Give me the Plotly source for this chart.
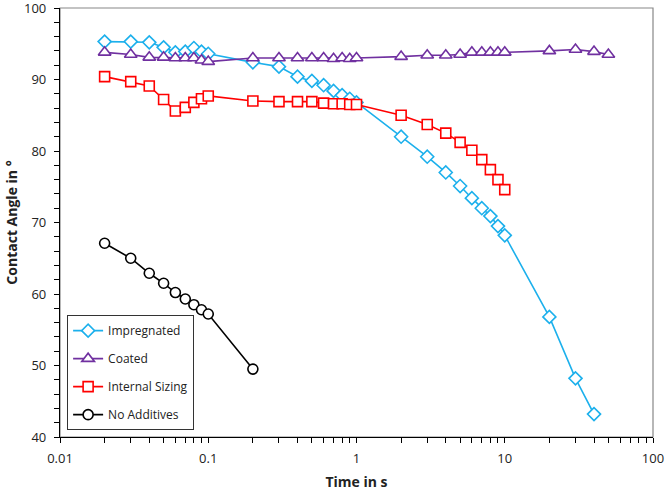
import plotly.graph_objects as go

# ---- data ----
t_imp = [0.02, 0.03, 0.04, 0.05, 0.06, 0.07, 0.08, 0.09, 0.1, 0.2, 0.3, 0.4, 0.5, 0.6, 0.7,
         0.8, 0.9, 1, 2, 3, 4, 5, 6, 7, 8, 9, 10, 20, 30, 40]
ca_imp = [95.3, 95.3, 95.2, 94.5, 93.8, 93.9, 94.4, 93.9, 93.6, 92.4, 91.8, 90.4, 89.8, 89.2, 88.4,
          87.8, 87.3, 86.8, 82.0, 79.2, 77.0, 75.1, 73.4, 72.0, 70.9, 69.5, 68.2, 56.8, 48.2, 43.2]

t_coat = [0.02, 0.03, 0.04, 0.05, 0.06, 0.07, 0.08, 0.09, 0.1, 0.2, 0.3, 0.4, 0.5, 0.6, 0.7,
          0.8, 0.9, 1, 2, 3, 4, 5, 6, 7, 8, 9, 10, 20, 30, 40, 50]
ca_coat = [93.8, 93.5, 93.1, 93.1, 93.0, 93.0, 93.0, 92.7, 92.5, 93.0, 93.0, 93.0, 93.0, 93.0, 92.9,
           93.0, 92.9, 93.0, 93.2, 93.4, 93.4, 93.5, 93.8, 93.8, 93.8, 93.8, 93.8, 94.0, 94.2, 93.9, 93.5]

t_int = [0.02, 0.03, 0.04, 0.05, 0.06, 0.07, 0.08, 0.09, 0.1, 0.2, 0.3, 0.4, 0.5, 0.6, 0.7,
         0.8, 0.9, 1, 2, 3, 4, 5, 6, 7, 8, 9, 10]
ca_int = [90.4, 89.7, 89.1, 87.2, 85.6, 86.1, 86.8, 87.3, 87.7, 87.0, 86.9, 86.9, 86.9, 86.7, 86.6,
          86.6, 86.5, 86.5, 85.0, 83.7, 82.5, 81.2, 80.1, 78.8, 77.4, 76.0, 74.6]

t_none = [0.02, 0.03, 0.04, 0.05, 0.06, 0.07, 0.08, 0.09, 0.1, 0.2]
ca_none = [67.1, 65.0, 62.9, 61.5, 60.2, 59.3, 58.5, 57.8, 57.2, 49.5]

names = ["Impregnated", "Coated", "Internal Sizing", "No Additives"]
x_ticks = [0.01, 0.1, 1, 10, 100]
x_tick_labels = ["0.01", "0.1", "1", "10", "100"]
y_ticks = [40, 50, 60, 70, 80, 90, 100]

FONT = "Open Sans"
series = [
    (t_imp, ca_imp, names[0], "#1CB0EC", "diamond", 10),
    (t_coat, ca_coat, names[1], "#7030A0", "triangle-up", 11),
    (t_int, ca_int, names[2], "#FF0000", "square", 10),
    (t_none, ca_none, names[3], "#000000", "circle", 10),
]

fig = go.Figure()
for i, (x, y, nm, col, sym, sz) in enumerate(series):
    fig.add_trace(go.Scatter(
        x=x, y=y, name=nm, mode="lines+markers", legendgroup=f"g{i}",
        line=dict(color=col, width=1.6),
        marker=dict(symbol=sym, size=sz, color="white", line=dict(color=col, width=1.6)),
    ))

fig.add_shape(type="rect", xref="paper", yref="paper", x0=0, y0=0, x1=1, y1=1,
              line=dict(color="#888888", width=1.2), layer="below")

fig.update_layout(
    width=666, height=491,
    margin=dict(l=60, r=13, t=8, b=54, autoexpand=False),
    paper_bgcolor="white", plot_bgcolor="white",
    font=dict(family=FONT, size=13, color="#222222"),
    showlegend=True,
    legend=dict(x=0.012, y=0.284, xanchor="left", yanchor="top",
                bordercolor="#333333", borderwidth=1, bgcolor="white",
                font=dict(family=FONT, size=12, color="#222222"),
                traceorder="grouped", tracegroupgap=9),
    xaxis=dict(type="log", range=[-2, 2], tickvals=x_ticks, ticktext=x_tick_labels,
               automargin=False, ticklabeloverflow="allow", ticklabelstandoff=4,
               showgrid=False, zeroline=False, showline=True, linecolor="black", linewidth=1.2,
               ticks="outside", ticklen=5, tickcolor="black",
               minor=dict(ticks="outside", ticklen=5, tickcolor="black", dtick="D1", showgrid=False),
               title=dict(text="<b>Time in s</b>", font=dict(family=FONT, size=14, color="#222222"), standoff=14)),
    yaxis=dict(range=[40, 100], tickvals=y_ticks, automargin=False, ticklabeloverflow="allow",
               ticklabelstandoff=5,
               showgrid=False, zeroline=False, showline=True,
               linecolor="black", linewidth=1.2, ticks="outside", ticklen=5, tickcolor="black",
               minor=dict(ticks="outside", ticklen=5, tickcolor="black", dtick=2, showgrid=False),
               title=dict(text="<b>Contact Angle in °</b>", font=dict(family=FONT, size=14, color="#222222"), standoff=3)),
)

fig.write_html("out.html", config={"displayModeBar": False},
               post_script="document.body.style.margin='0';document.body.style.padding='0';")
